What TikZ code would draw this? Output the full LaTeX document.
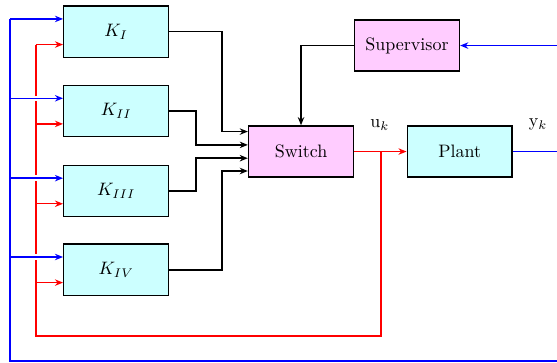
\documentclass[tikz,border=0pt]{standalone}
\usetikzlibrary{calc,arrows.meta}
\definecolor{ctrlfill}{RGB}{204,255,255}
\definecolor{logicfill}{RGB}{255,204,255}
\tikzset{
  ctrl/.style={rectangle, draw, thick, fill=ctrlfill, minimum width=2.05cm, minimum height=1cm, inner sep=0pt},
  logic/.style={rectangle, draw, thick, fill=logicfill, minimum width=2.05cm, minimum height=1cm, inner sep=0pt},
  sigline/.style={thick, -{Stealth[length=4.5pt,width=3.6pt]}},
  uline/.style={sigline, red},
  yline/.style={sigline, blue},
  jump/.style={preaction={draw=white, line width=3pt, -, shorten <=0.3cm, shorten >=0.3cm}}
}
\begin{document}
\begin{tikzpicture}
  \useasboundingbox (0,0) rectangle (10.88,7.09);
  \clip (0,0) rectangle (10.88,7.09);

  % blocks
  \node[ctrl] (kI) at (2.27,6.47) {$K_I$};
  \node[ctrl] (kII) at (2.27,4.92) {$K_{II}$};
  \node[ctrl] (kIII) at (2.27,3.36) {$K_{III}$};
  \node[ctrl] (kIV) at (2.27,1.82) {$K_{IV}$};
  \node[logic] (switch) at (5.88,4.13) {Switch};
  \node[logic] (super) at (7.95,6.20) {Supervisor};
  \node[ctrl] (plant) at (8.98,4.13) {Plant};
  \node (ulab) at (7.42,4.65) {u$_k$};
  \node (ylab) at (10.51,4.65) {y$_k$};

  % switch inputs
  \coordinate (s1) at ($(switch.west)+(0,0.39)$);
  \coordinate (s2) at ($(switch.west)+(0,0.13)$);
  \coordinate (s3) at ($(switch.west)+(0,-0.13)$);
  \coordinate (s4) at ($(switch.west)+(0,-0.38)$);
  \coordinate (j1) at (4.34,0);
  \coordinate (j2) at (3.83,0);
  \draw[sigline] (kI.east) -| (j1 |- s1) -- (s1);
  \draw[sigline] (kII.east) -| (j2 |- s2) -- (s2);
  \draw[sigline] (kIII.east) -| (j2 |- s3) -- (s3);
  \draw[sigline] (kIV.east) -| (j1 |- s4) -- (s4);
  \draw[sigline] (super.west) -| (switch.north);

  % controller inputs
  \coordinate (r1) at ($(kI.west)+(0,-0.25)$);
  \coordinate (r2) at ($(kII.west)+(0,-0.25)$);
  \coordinate (r3) at ($(kIII.west)+(0,-0.25)$);
  \coordinate (r4) at ($(kIV.west)+(0,-0.25)$);
  \coordinate (b1) at ($(kI.west)+(0,0.25)$);
  \coordinate (b2) at ($(kII.west)+(0,0.25)$);
  \coordinate (b3) at ($(kIII.west)+(0,0.25)$);
  \coordinate (b4) at ($(kIV.west)+(0,0.25)$);

  % u_k loop
  \coordinate (ub) at (7.44,0.53);
  \coordinate (ul) at (0.70,0.53);
  \draw[uline] (switch) -- (plant);
  \draw[thick, red] (ub |- switch.east) -- (ub) -- (ul) -- (ul |- r1);
  \draw[uline] (ul |- r1) -- (r1);
  \draw[uline] (ul |- r2) -- (r2);
  \draw[uline] (ul |- r3) -- (r3);
  \draw[uline] (ul |- r4) -- (r4);

  % y_k loop
  \coordinate (yb) at (11.30,0.04);
  \coordinate (yl) at (0.195,0.04);
  \draw[yline] (plant.east) -| (yb |- super.east) -- (super.east);
  \draw[thick, blue] (plant.east -| yb) -- (yb) -- (yl) -- (yl |- b1);
  \draw[yline] (yl |- b1) -- (b1);
  \draw[yline, jump] (yl |- b2) -- (b2);
  \draw[yline, jump] (yl |- b3) -- (b3);
  \draw[yline, jump] (yl |- b4) -- (b4);
\end{tikzpicture}
\end{document}
